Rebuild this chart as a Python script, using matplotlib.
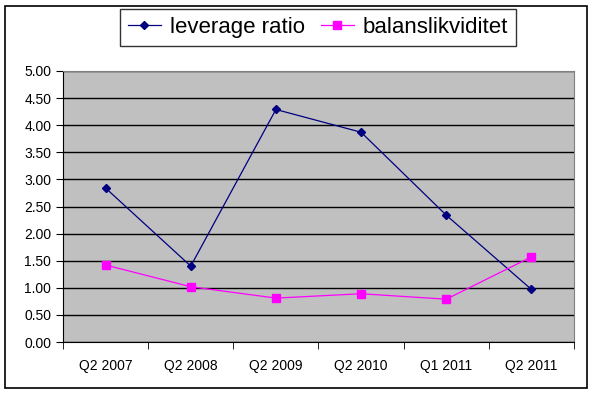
import matplotlib
matplotlib.use("Agg")
import matplotlib.pyplot as plt
from matplotlib.patches import Rectangle

plt.rcParams['font.family'] = ['Liberation Sans', 'DejaVu Sans']

# data
quarters = ["Q2 2007", "Q2 2008", "Q2 2009", "Q2 2010", "Q1 2011", "Q2 2011"]
leverage = [2.84, 1.40, 4.29, 3.87, 2.34, 0.97]
balans = [1.42, 1.02, 0.81, 0.89, 0.79, 1.57]

fig = plt.figure(figsize=(5.92, 3.95), dpi=100)
# outer chart border
fig.patches.append(Rectangle((5/592, 7/395), 582/592, 382/395, transform=fig.transFigure,
                             fill=False, edgecolor='black', linewidth=1.2))

ax = fig.add_axes([63/592, 53/395, 511/592, 271/395])
ax.set_facecolor('#C0C0C0')

x = range(len(quarters))
ax.plot(x, leverage, color='#000080', marker='D', markersize=4.5, linewidth=0.9,
        label='leverage ratio')
ax.plot(x, balans, color='#FF00FF', marker='s', markersize=5.5, linewidth=0.9,
        label='balanslikviditet')

ax.set_xlim(-0.5, len(quarters) - 0.5)
ax.set_ylim(0, 5)
ax.set_yticks([i * 0.5 for i in range(11)])
ax.set_yticklabels(['%.2f' % (i * 0.5) for i in range(11)], fontsize=10)
ax.yaxis.grid(True, color='black', linewidth=1)
ax.set_axisbelow(True)

ax.set_xticks(list(x))
ax.set_xticklabels(quarters, fontsize=10)
ax.tick_params(axis='x', length=0, pad=12)
ax.set_xticks([i - 0.5 for i in range(len(quarters) + 1)], minor=True)
ax.tick_params(axis='x', which='minor', length=5, direction='out', color='black')
ax.tick_params(axis='y', length=5, direction='out', color='black')

for side in ['top', 'right']:
    ax.spines[side].set_color('#808080')
for side in ['left', 'bottom']:
    ax.spines[side].set_color('black')

leg = fig.legend(loc='upper center', bbox_to_anchor=(318/592, 1 - 9/395), ncol=2,
                 fontsize=16, frameon=True, fancybox=False, edgecolor='black',
                 handlelength=1.5, columnspacing=0.7, handletextpad=0.4,
                 borderpad=0.35, borderaxespad=0)
leg.get_frame().set_linewidth(1)

fig.savefig('out.png', dpi=100)
